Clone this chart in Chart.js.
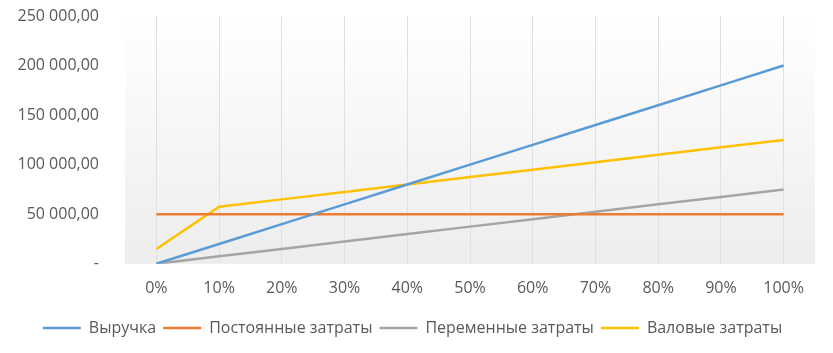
<!DOCTYPE html>
<html>
<head>
<meta charset="utf-8">
<script src="https://cdn.jsdelivr.net/npm/chart.js@4"></script>
<style>
html,body{margin:0;padding:0;background:#fff;}
#wrap{width:833px;height:353px;}
</style>
</head>
<body>
<div id="wrap"><canvas id="c" width="833" height="353"></canvas></div>
<script>
const categories = ['0%','10%','20%','30%','40%','50%','60%','70%','80%','90%','100%'];
const revenue = [0,20000,40000,60000,80000,100000,120000,140000,160000,180000,200000];
const fixedCosts = [50000,50000,50000,50000,50000,50000,50000,50000,50000,50000,50000];
const variableCosts = [0,7500,15000,22500,30000,37500,45000,52500,60000,67500,75000];
const grossCosts = [15000,57500,65000,72500,80000,87500,95000,102500,110000,117500,125000];
const seriesNames = ['Выручка','Постоянные затраты','Переменные затраты','Валовые затраты'];
const yTicks = [0,50000,100000,150000,200000,250000];

const FONT = "'Open Sans', sans-serif";
const TXT = '#595959';

const bgPlugin = {
  id: 'bg',
  beforeDraw(chart) {
    const {ctx, chartArea: a} = chart;
    const g = ctx.createLinearGradient(0, a.top, 0, a.bottom);
    g.addColorStop(0, '#ffffff');
    g.addColorStop(1, '#ededed');
    ctx.save();
    ctx.fillStyle = g;
    ctx.fillRect(a.left, a.top, a.right - a.left, a.bottom - a.top);
    ctx.restore();
  }
};

function fmt(v) {
  if (v === 0) return '-';
  const s = Math.round(v).toString().replace(/\B(?=(\d{3})+(?!\d))/g, ' ');
  return s + ',00';
}

const colors = ['#5B9BD5','#ED7D31','#A5A5A5','#FFC000'];
const data = [revenue, fixedCosts, variableCosts, grossCosts];

new Chart(document.getElementById('c'), {
  type: 'line',
  data: {
    labels: categories,
    datasets: data.map((d, i) => ({
      label: seriesNames[i],
      data: d,
      borderColor: colors[i],
      backgroundColor: colors[i],
      borderWidth: 2.5,
      pointRadius: 0,
      tension: 0,
      fill: false
    }))
  },
  options: {
    responsive: false,
    animation: false,
    layout: { padding: { top: 16, right: 18, left: 10, bottom: 7 } },
    plugins: {
      legend: {
        position: 'bottom',
        labels: {
          color: TXT,
          font: { family: FONT, size: 16 },
          boxWidth: 38,
          boxHeight: 0,
          padding: 7
        }
      },
      tooltip: { enabled: false }
    },
    scales: {
      x: {
        offset: true,
        grid: { color: '#e0e0e0', drawTicks: false, offset: false },
        border: { display: false },
        ticks: { color: TXT, font: { family: FONT, size: 16 }, padding: 15 }
      },
      y: {
        min: 0, max: 250000,
        afterBuildTicks(scale) { scale.ticks = yTicks.map(v => ({ value: v })); },
        afterFit(scale) { scale.width = 115; scale.paddingTop = 0; scale.paddingBottom = 0; },
        grid: { display: false },
        border: { display: false },
        ticks: {
          color: TXT,
          font: { family: FONT, size: 16 },
          padding: 18,
          callback: (v) => fmt(v)
        }
      }
    }
  },
  plugins: [bgPlugin]
});
</script>
</body>
</html>
